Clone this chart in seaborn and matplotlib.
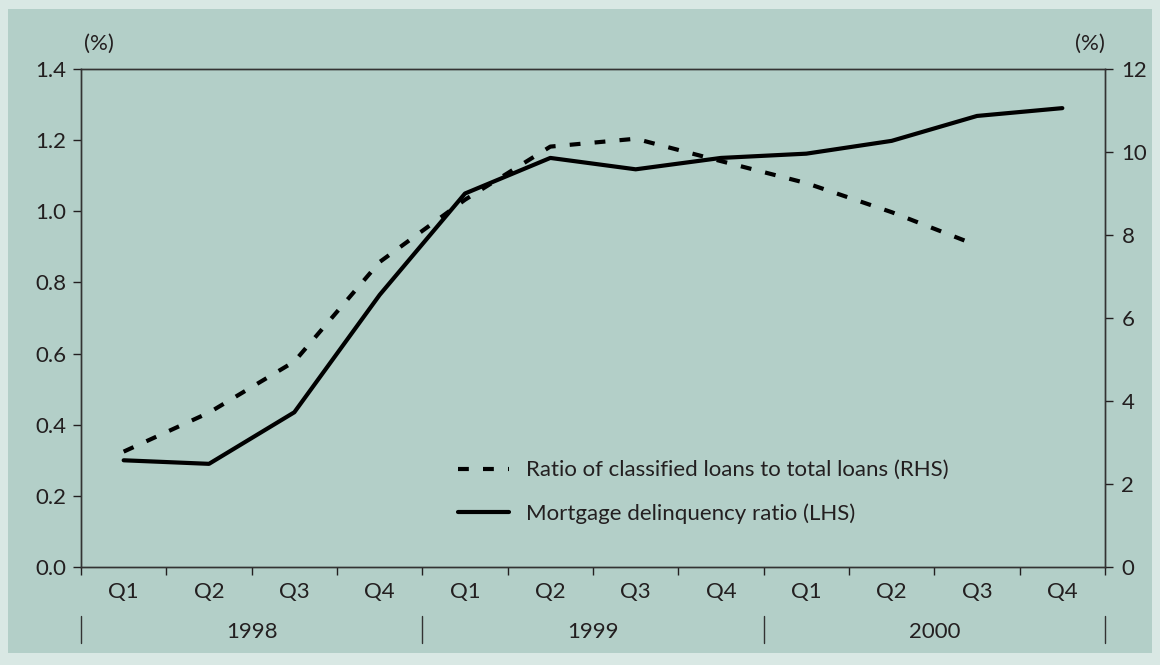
import numpy as np
import pandas as pd
import matplotlib
matplotlib.use("Agg")
import matplotlib.pyplot as plt
import matplotlib.transforms as mtransforms
from matplotlib.patches import Rectangle
import seaborn as sns

quarters = ["Q1", "Q2", "Q3", "Q4"] * 3
years = ["1998", "1999", "2000"]
mortgage_lhs = [0.30, 0.29, 0.435, 0.765, 1.05, 1.15, 1.118, 1.15, 1.162, 1.198, 1.268, 1.29]
classified_rhs = [2.78, 3.72, 4.95, 7.35, 8.85, 10.13, 10.32, 9.78, 9.25, 8.55, 7.75]

outer_bg = "#d9e8e4"
panel_bg = "#b3cfc8"
text_col = "#231f20"

sns.set_theme(style="white")
plt.rcParams["font.family"] = ["Lato", "DejaVu Sans"]
plt.rcParams["text.color"] = text_col
plt.rcParams["axes.labelcolor"] = text_col
plt.rcParams["xtick.color"] = text_col
plt.rcParams["ytick.color"] = text_col

fs = 16
W, H = 1160, 665
fig = plt.figure(figsize=(11.6, 6.65), dpi=100, facecolor=outer_bg)
fig.patches.append(Rectangle((8 / W, 12 / H), 1144 / W, 644 / H, transform=fig.transFigure,
                             facecolor=panel_bg, edgecolor="none", zorder=-10))

ax = fig.add_axes([81 / W, (H - 567) / H, 1024 / W, 498 / H])
ax.set_facecolor(panel_bg)
ax2 = ax.twinx()

df_l = pd.DataFrame({"pos": np.arange(len(mortgage_lhs)), "val": mortgage_lhs})
df_r = pd.DataFrame({"pos": np.arange(len(classified_rhs)), "val": classified_rhs})

sns.lineplot(data=df_l, x="pos", y="val", ax=ax, color="black", linewidth=3.0,
             label="Mortgage delinquency ratio (LHS)", legend=False)
sns.lineplot(data=df_r, x="pos", y="val", ax=ax2, color="black", linewidth=3.0,
             label="Ratio of classified loans to total loans (RHS)", legend=False)
ax2.lines[0].set_dashes([2.6, 3.4])

ax.set_xlim(-0.5, 11.5)
ax.set_ylim(0, 1.4)
ax2.set_ylim(0, 12)
ax.set_yticks(np.arange(0, 1.41, 0.2))
ax.set_yticklabels([f"{v:.1f}" for v in np.arange(0, 1.41, 0.2)])
ax2.set_yticks(np.arange(0, 13, 2))
ax.set_xlabel("")
ax.set_ylabel("")
ax2.set_ylabel("")

ax.set_xticks(np.arange(12))
ax.set_xticklabels(quarters)
ax.set_xticks(np.arange(-0.5, 12, 1), minor=True)
ax.tick_params(axis="x", which="major", length=0, pad=10.5, labelsize=fs)
ax.tick_params(axis="x", which="minor", length=5.8, width=1, direction="out", bottom=True)
ax.tick_params(axis="y", length=5.8, width=1, direction="out", pad=5, labelsize=fs, left=True)
ax2.tick_params(axis="y", length=5.8, width=1, direction="out", pad=6, labelsize=fs, right=True)

for a in (ax, ax2):
    for s in a.spines.values():
        s.set_color("#333333")
        s.set_linewidth(1.0)

# year labels and separators below quarters
trans = mtransforms.blended_transform_factory(ax.transData, ax.transAxes)
for i, yr in enumerate(years):
    ax.text(i * 4 + 1.5, -0.131, yr, transform=trans, ha="center", va="center",
            fontsize=fs, color=text_col)
for b in [-0.5, 3.5, 7.5, 11.5]:
    ax.plot([b, b], [-0.098, -0.153], transform=trans, color="#333333", lw=1.0, clip_on=False)

ax.text(-0.5 + 0.03, 1.05, "(%)", transform=trans, ha="left", va="center", fontsize=fs)
ax.text(11.5, 1.05, "(%)", transform=trans, ha="right", va="center", fontsize=fs)

handles = [ax2.lines[0], ax.lines[0]]
labels = ["Ratio of classified loans to total loans (RHS)", "Mortgage delinquency ratio (LHS)"]
ax.legend(handles, labels, loc="center left", bbox_to_anchor=(0.368, 0.15), frameon=False,
          fontsize=fs, borderpad=0, borderaxespad=0, handlelength=2.3, handletextpad=0.75,
          labelspacing=1.05)

fig.savefig("out.png", dpi=100, facecolor=outer_bg)
